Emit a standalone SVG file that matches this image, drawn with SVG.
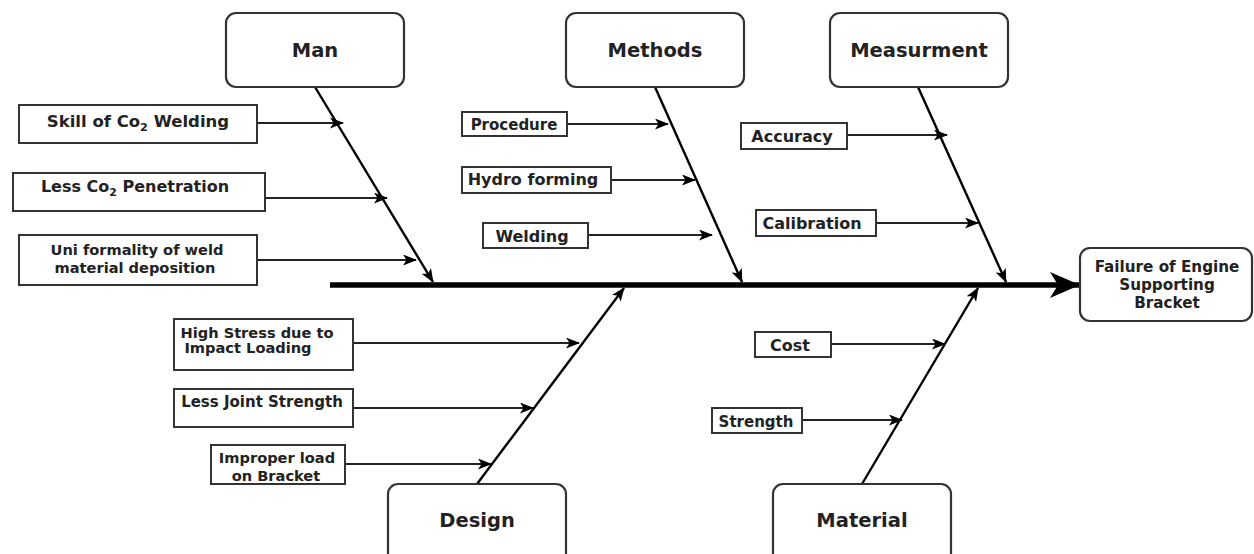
<svg xmlns="http://www.w3.org/2000/svg" width="1254" height="554" viewBox="0 0 1254 554">
<defs>
<style>
.cat{fill:#fff;stroke:#333;stroke-width:2.2}
.cause{fill:#fff;stroke:#333;stroke-width:2}
.ct{font-family:"DejaVu Sans",Verdana,sans-serif;font-weight:bold;font-size:19.5px;fill:#222;text-anchor:middle}
.et{font-family:"DejaVu Sans",Verdana,sans-serif;font-weight:bold;font-size:15.2px;fill:#222;text-anchor:middle}
.t{font-family:"DejaVu Sans",Verdana,sans-serif;font-weight:bold;font-size:16px;fill:#222;text-anchor:middle}
.s15{font-size:15px}
.s146{font-size:14.6px}
.s165{font-size:16.5px}
.bone{stroke:#000;stroke-width:2.4;fill:none;marker-end:url(#ah)}
.arr{stroke:#222;stroke-width:2;fill:none;marker-end:url(#ah)}
.sub{font-size:0.68em}
</style>
<marker id="ah" viewBox="0 0 14 11" refX="13" refY="5.5" markerWidth="14" markerHeight="11" markerUnits="userSpaceOnUse" orient="auto">
<path d="M0,0 L14,5.5 L0,11 L3.5,5.5 z" fill="#000"/>
</marker>
<marker id="spine" viewBox="0 0 30 26" refX="29" refY="13" markerWidth="30" markerHeight="26" markerUnits="userSpaceOnUse" orient="auto">
<path d="M0,0 L30,13 L0,26 L8,13 z" fill="#000"/>
</marker>
</defs>

<g id="connectors">
<line x1="330" y1="285" x2="1079" y2="285" stroke="#000" stroke-width="5.5" marker-end="url(#spine)"/>
<line class="bone" x1="315" y1="87" x2="433" y2="282"/>
<line class="bone" x1="655" y1="87" x2="742" y2="282"/>
<line class="bone" x1="918" y1="87" x2="1006" y2="282"/>
<line class="bone" x1="477" y1="484" x2="624" y2="288"/>
<line class="bone" x1="862" y1="484" x2="978" y2="288"/>
<line class="arr" x1="257" y1="123" x2="343" y2="123"/>
<line class="arr" x1="265" y1="198" x2="387" y2="198"/>
<line class="arr" x1="257" y1="260" x2="416" y2="260"/>
<line class="arr" x1="567" y1="124" x2="668" y2="124"/>
<line class="arr" x1="611" y1="180" x2="695" y2="180"/>
<line class="arr" x1="588" y1="235" x2="712" y2="235"/>
<line class="arr" x1="847" y1="135" x2="947" y2="135"/>
<line class="arr" x1="876" y1="223" x2="978" y2="223"/>
<line class="arr" x1="353" y1="343" x2="579" y2="343"/>
<line class="arr" x1="353" y1="408" x2="533" y2="408"/>
<line class="arr" x1="345" y1="464" x2="491" y2="464"/>
<line class="arr" x1="831" y1="344" x2="945" y2="344"/>
<line class="arr" x1="802" y1="420" x2="902" y2="420"/>
</g>

<g id="effect">
<rect class="cat" x="1080" y="248" width="172" height="73" rx="10"/>
<text class="et" x="1167" y="272">Failure of Engine</text>
<text class="et" x="1167" y="290">Supporting</text>
<text class="et" x="1167" y="308">Bracket</text>
</g>

<g id="man">
<rect class="cat" x="226" y="13" width="178" height="74" rx="10"/>
<text class="ct" x="315" y="57">Man</text>
</g>
<g id="methods">
<rect class="cat" x="566" y="13" width="178" height="74" rx="10"/>
<text class="ct" x="655" y="57">Methods</text>
</g>
<g id="measurment">
<rect class="cat" x="830" y="13" width="178" height="74" rx="10"/>
<text class="ct" x="919" y="57">Measurment</text>
</g>
<g id="design">
<rect class="cat" x="388" y="484" width="178" height="80" rx="10"/>
<text class="ct" x="477" y="527">Design</text>
</g>
<g id="material">
<rect class="cat" x="773" y="484" width="178" height="80" rx="10"/>
<text class="ct" x="862" y="527">Material</text>
</g>

<g id="skill">
<rect class="cause" x="19" y="105" width="238" height="38"/>
<text class="t s165" x="138" y="127">Skill of Co<tspan class="sub" dy="4">2</tspan><tspan dy="-4"> Welding</tspan></text>
</g>
<g id="penetration">
<rect class="cause" x="13" y="173" width="252" height="38"/>
<text class="t" x="135" y="192">Less Co<tspan class="sub" dy="4">2</tspan><tspan dy="-4"> Penetration</tspan></text>
</g>
<g id="uniformity">
<rect class="cause" x="19" y="235" width="238" height="50"/>
<text class="t s146" x="137" y="255">Uni formality of weld</text>
<text class="t s146" x="135" y="273">material deposition</text>
</g>

<g id="procedure">
<rect class="cause" x="462" y="112" width="105" height="24"/>
<text class="t s15" x="514" y="130">Procedure</text>
</g>
<g id="hydro">
<rect class="cause" x="462" y="167" width="149" height="26"/>
<text class="t" x="533" y="185">Hydro forming</text>
</g>
<g id="welding">
<rect class="cause" x="483" y="223" width="105" height="25"/>
<text class="t" x="532" y="242">Welding</text>
</g>

<g id="accuracy">
<rect class="cause" x="741" y="123" width="106" height="26"/>
<text class="t" x="792" y="142">Accuracy</text>
</g>
<g id="calibration">
<rect class="cause" x="756" y="210" width="120" height="26"/>
<text class="t" x="812" y="229">Calibration</text>
</g>

<g id="highstress">
<rect class="cause" x="174" y="319" width="179" height="51"/>
<text class="t s146" x="257" y="338">High Stress due to</text>
<text class="t s146" x="248" y="353">Impact Loading</text>
</g>
<g id="joint">
<rect class="cause" x="174" y="389" width="179" height="38"/>
<text class="t s15" x="262" y="407">Less Joint Strength</text>
</g>
<g id="improper">
<rect class="cause" x="211" y="445" width="134" height="39"/>
<text class="t s146" x="277" y="463">Improper load</text>
<text class="t s146" x="276" y="481">on Bracket</text>
</g>

<g id="cost">
<rect class="cause" x="755" y="332" width="76" height="25"/>
<text class="t" x="790" y="351">Cost</text>
</g>
<g id="strength">
<rect class="cause" x="712" y="408" width="90" height="25"/>
<text class="t s15" x="756" y="427">Strength</text>
</g>
</svg>
